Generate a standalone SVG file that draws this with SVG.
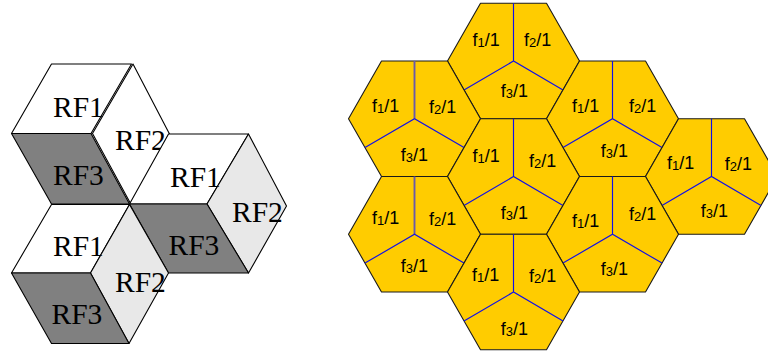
<svg xmlns="http://www.w3.org/2000/svg" xmlns:xlink="http://www.w3.org/1999/xlink" width="768" height="355" viewBox="0 0 768 355">
<style>
.face{stroke:#000;stroke-width:1.1;stroke-linejoin:round}
.w{fill:#fff}.lg{fill:#e8e8e8}.dg{fill:#808080}
.rf{font-family:"Liberation Serif","Times New Roman",serif;font-size:29.5px;fill:#000}
.hex{fill:#ffcc00;stroke:#1a1a1a;stroke-width:1.1;stroke-linejoin:round}
.div{stroke:#1010e8;stroke-width:1.15;fill:none}
.divp{stroke:#6a5aa8;stroke-width:1.9;fill:none}
.f{font-family:"Liberation Sans",Arial,sans-serif;font-size:18px;fill:#000}
.s{font-size:13px}
</style>
<defs>
<polygon id="hx" class="hex" points="-66,0 -33,-57.75 33,-57.75 66,0 33,57.75 -33,57.75"/>
</defs>
<g id="cube1">
<polygon class="face w" points="133,64 169.5,134 130.8,204 92.5,133.5"/>
<polygon class="face w" points="51.5,64 131.5,64 91,133.5 11.5,133.5"/>
<polygon class="face dg" points="11.5,133.5 91,133.5 129.5,204 51.5,204"/>
<text class="rf" x="53" y="116.5">RF1</text>
<text class="rf" x="115" y="149.5">RF2</text>
<text class="rf" x="53" y="185">RF3</text>
</g>
<g id="cube2">
<polygon class="face w" points="168.5,134 248.5,134 207,204 129.5,204"/>
<polygon class="face lg" points="248.5,134 286.5,206 248.5,273 207,204"/>
<polygon class="face dg" points="129.5,204 207,204 248.5,273 168.5,273"/>
<text class="rf" x="170" y="186.5">RF1</text>
<text class="rf" x="232" y="221.5">RF2</text>
<text class="rf" x="168.5" y="255">RF3</text>
</g>
<g id="cube3">
<polygon class="face w" points="51.5,204.5 129.5,204.5 90.5,273 11.5,273"/>
<polygon class="face lg" points="129.5,204.5 168.5,273 129,343.5 90.5,273"/>
<polygon class="face dg" points="11.5,273 90.5,273 129,343.5 51.5,343.5"/>
<text class="rf" x="53" y="256">RF1</text>
<text class="rf" x="115" y="291.5">RF2</text>
<text class="rf" x="51.5" y="323.5">RF3</text>
</g>
<g id="cellA">
<use xlink:href="#hx" href="#hx" x="513.5" y="61"/>
<path class="div" d="M513.5,3.25V61M464,89.9L513.5,61L563,89.9"/>
<text class="f" x="472.5" y="45.7">f<tspan class="s" dy="1">1</tspan><tspan dy="-1">/1</tspan></text>
<text class="f" x="524" y="45.7">f<tspan class="s" dy="1">2</tspan><tspan dy="-1">/1</tspan></text>
<text class="f" x="500.7" y="97.3">f<tspan class="s" dy="1">3</tspan><tspan dy="-1">/1</tspan></text>
</g>
<g id="cellB">
<use xlink:href="#hx" href="#hx" x="414.5" y="118.75"/>
<path class="divp" d="M414.5,61V118.75"/>
<path class="div" d="M365,147.6L414.5,118.75L464,147.6"/>
<text class="f" x="372" y="112.3">f<tspan class="s" dy="1">1</tspan><tspan dy="-1">/1</tspan></text>
<text class="f" x="429" y="113.3">f<tspan class="s" dy="1">2</tspan><tspan dy="-1">/1</tspan></text>
<text class="f" x="400.7" y="160.7">f<tspan class="s" dy="1">3</tspan><tspan dy="-1">/1</tspan></text>
</g>
<g id="cellC">
<use xlink:href="#hx" href="#hx" x="612.5" y="118.75"/>
<path class="div" d="M612.5,61V118.75M563,147.6L612.5,118.75L662,147.6"/>
<text class="f" x="572" y="112.3">f<tspan class="s" dy="1">1</tspan><tspan dy="-1">/1</tspan></text>
<text class="f" x="629" y="112.3">f<tspan class="s" dy="1">2</tspan><tspan dy="-1">/1</tspan></text>
<text class="f" x="600.7" y="156.7">f<tspan class="s" dy="1">3</tspan><tspan dy="-1">/1</tspan></text>
</g>
<g id="cellD">
<use xlink:href="#hx" href="#hx" x="513.5" y="176.5"/>
<path class="div" d="M513.5,118.75V176.5M464,205.4L513.5,176.5L563,205.4"/>
<text class="f" x="472.5" y="162.3">f<tspan class="s" dy="1">1</tspan><tspan dy="-1">/1</tspan></text>
<text class="f" x="529" y="166.7">f<tspan class="s" dy="1">2</tspan><tspan dy="-1">/1</tspan></text>
<text class="f" x="500.7" y="219">f<tspan class="s" dy="1">3</tspan><tspan dy="-1">/1</tspan></text>
</g>
<g id="cellE">
<use xlink:href="#hx" href="#hx" x="711.5" y="176.5"/>
<path class="div" d="M711.5,118.75V176.5M662,205.4L711.5,176.5L761,205.4"/>
<text class="f" x="667" y="169.3">f<tspan class="s" dy="1">1</tspan><tspan dy="-1">/1</tspan></text>
<text class="f" x="724.7" y="170">f<tspan class="s" dy="1">2</tspan><tspan dy="-1">/1</tspan></text>
<text class="f" x="700.7" y="217.3">f<tspan class="s" dy="1">3</tspan><tspan dy="-1">/1</tspan></text>
</g>
<g id="cellF">
<use xlink:href="#hx" href="#hx" x="414.5" y="234.25"/>
<path class="divp" d="M414.5,176.5V234.25"/>
<path class="div" d="M365,263.1L414.5,234.25L464,263.1"/>
<text class="f" x="372" y="224">f<tspan class="s" dy="1">1</tspan><tspan dy="-1">/1</tspan></text>
<text class="f" x="429" y="225">f<tspan class="s" dy="1">2</tspan><tspan dy="-1">/1</tspan></text>
<text class="f" x="400.7" y="271.7">f<tspan class="s" dy="1">3</tspan><tspan dy="-1">/1</tspan></text>
</g>
<g id="cellG">
<use xlink:href="#hx" href="#hx" x="612.5" y="234.25"/>
<path class="div" d="M612.5,176.5V234.25M563,263.1L612.5,234.25L662,263.1"/>
<text class="f" x="572" y="227.3">f<tspan class="s" dy="1">1</tspan><tspan dy="-1">/1</tspan></text>
<text class="f" x="629" y="220">f<tspan class="s" dy="1">2</tspan><tspan dy="-1">/1</tspan></text>
<text class="f" x="600.7" y="275">f<tspan class="s" dy="1">3</tspan><tspan dy="-1">/1</tspan></text>
</g>
<g id="cellH">
<use xlink:href="#hx" href="#hx" x="513.5" y="292"/>
<path class="div" d="M513.5,234.25V292M464,320.9L513.5,292L563,320.9"/>
<text class="f" x="472" y="280.7">f<tspan class="s" dy="1">1</tspan><tspan dy="-1">/1</tspan></text>
<text class="f" x="529" y="282.3">f<tspan class="s" dy="1">2</tspan><tspan dy="-1">/1</tspan></text>
<text class="f" x="500.7" y="335">f<tspan class="s" dy="1">3</tspan><tspan dy="-1">/1</tspan></text>
</g>
<g id="connectors"></g>
</svg>
